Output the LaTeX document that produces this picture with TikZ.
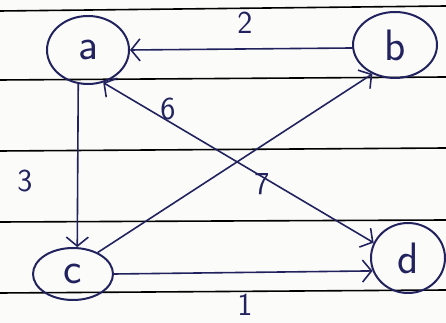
\documentclass[tikz,border=0pt]{standalone}
\usetikzlibrary{shapes.geometric,arrows.meta}
\definecolor{ink}{HTML}{22235E}
\definecolor{paper}{HTML}{FBFBFA}
\begin{document}
\begin{tikzpicture}[x=1pt,y=1pt,
  vtx/.style={draw=ink,line width=2pt,ellipse,inner sep=0pt,font=\sffamily\fontsize{44}{44}\selectfont,text=ink},
  edge/.style={draw=ink,line width=1.6pt,-{Straight Barb[length=9pt,width=22pt,line width=1.6pt]}},
  wlabel/.style={font=\sffamily\fontsize{32}{32}\selectfont,text=ink,inner sep=1pt},
  rule/.style={draw=black,line width=1.6pt}]
\fill[paper] (0,0) rectangle (446,323);
\useasboundingbox (0,0) rectangle (446,323);
% ruled lines
\draw[rule] (0,312) -- (446,317);
\draw[rule] (0,243) -- (446,246);
\draw[rule] (0,172) -- (446,175);
\draw[rule] (0,101) -- (446,103);
\draw[rule] (0,30) -- (446,33);
% vertices
\node[vtx,minimum width=82pt,minimum height=68pt] (a) at (88,273) {a};
\node[vtx,minimum width=84pt,minimum height=66pt] (b) at (395,278) {b};
\node[vtx,minimum width=80pt,minimum height=52pt] (c) at (73,49) {c};
\node[vtx,minimum width=74pt,minimum height=70pt] (d) at (408,65) {d};
% edges
\draw[edge] (b.184) -- (a.0);
\draw[edge] (a.254) -- (c.81);
\draw[edge] (c.41) -- (b.232);
\draw[edge,{Straight Barb[length=9pt,width=22pt,line width=1.6pt]}-{Straight Barb[length=9pt,width=22pt,line width=1.6pt]}] (a.295) -- (d.156);
\draw[edge] (c.0) -- (d.200);
% weights
\node[wlabel] (w2) at (245,300) {2};
\node[wlabel] (w3) at (25,142) {3};
\node[wlabel] (w6) at (168,214) {6};
\node[wlabel] (w7) at (262,139) {7};
\node[wlabel] (w1) at (245,18) {1};
\end{tikzpicture}
\end{document}
